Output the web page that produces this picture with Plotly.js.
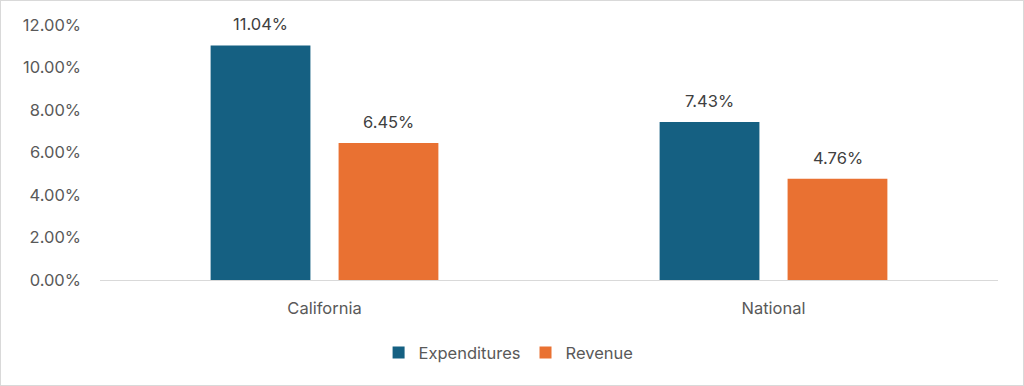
<!DOCTYPE html>
<html>
<head>
<meta charset="utf-8">
<script src="https://cdn.plot.ly/plotly-3.0.1.min.js"></script>
<style>
html,body{margin:0;padding:0;background:#fff;}
#chart{width:1022px;height:384px;border:1px solid #d9d9d9;}
</style>
</head>
<body>
<div id="chart"></div>
<script>
const categories = ["California", "National"];
const expenditures = [11.04, 7.43];
const revenue = [6.45, 4.76];
const seriesNames = ["Expenditures", "Revenue"];
const yTicks = [0, 2, 4, 6, 8, 10, 12];

const colors = ["#156082", "#E97132"];
const font = "Inter, 'Liberation Sans', Arial, sans-serif";
const txt = "#595959";

const traces = [expenditures, revenue].map((vals, i) => ({
  type: "bar",
  name: seriesNames[i],
  x: categories,
  y: vals,
  marker: {color: colors[i]},
  hoverinfo: "skip"
}));

const annotations = [];
[expenditures, revenue].forEach((vals, i) => {
  vals.forEach((v, j) => {
    annotations.push({
      x: categories[j], y: v, xref: "x", yref: "y",
      text: v.toFixed(2) + "%",
      showarrow: false, yanchor: "bottom",
      xshift: i === 0 ? -64 : 64, yshift: 9,
      font: {family: font, size: 16.5, color: "#404040"}
    });
  });
});

const layout = {
  width: 1022, height: 384,
  margin: {l: 99, r: 25, t: 24, b: 105},
  paper_bgcolor: "#fff", plot_bgcolor: "#fff",
  barmode: "group",
  bargap: 0.43,
  bargroupgap: 0.22,
  showlegend: true,
  legend: {orientation: "h", x: 0.455, xanchor: "center", y: -0.285, yanchor: "middle",
           font: {family: font, size: 16.5, color: txt}, itemwidth: 30, traceorder: "normal"},
  xaxis: {showline: true, linecolor: "#d9d9d9", linewidth: 1, ticks: "", showgrid: false,
          tickfont: {family: font, size: 16.5, color: txt}, ticklabelstandoff: 13, fixedrange: true},
  yaxis: {range: [0, 12], tickvals: yTicks, ticktext: yTicks.map(v => v.toFixed(2) + "%"),
          showgrid: false, zeroline: false, showline: false, ticks: "",
          tickfont: {family: font, size: 16.5, color: txt}, ticklabelstandoff: 18, fixedrange: true},
  annotations: annotations
};

Plotly.newPlot("chart", traces, layout, {displayModeBar: false, staticPlot: true});
</script>
</body>
</html>
